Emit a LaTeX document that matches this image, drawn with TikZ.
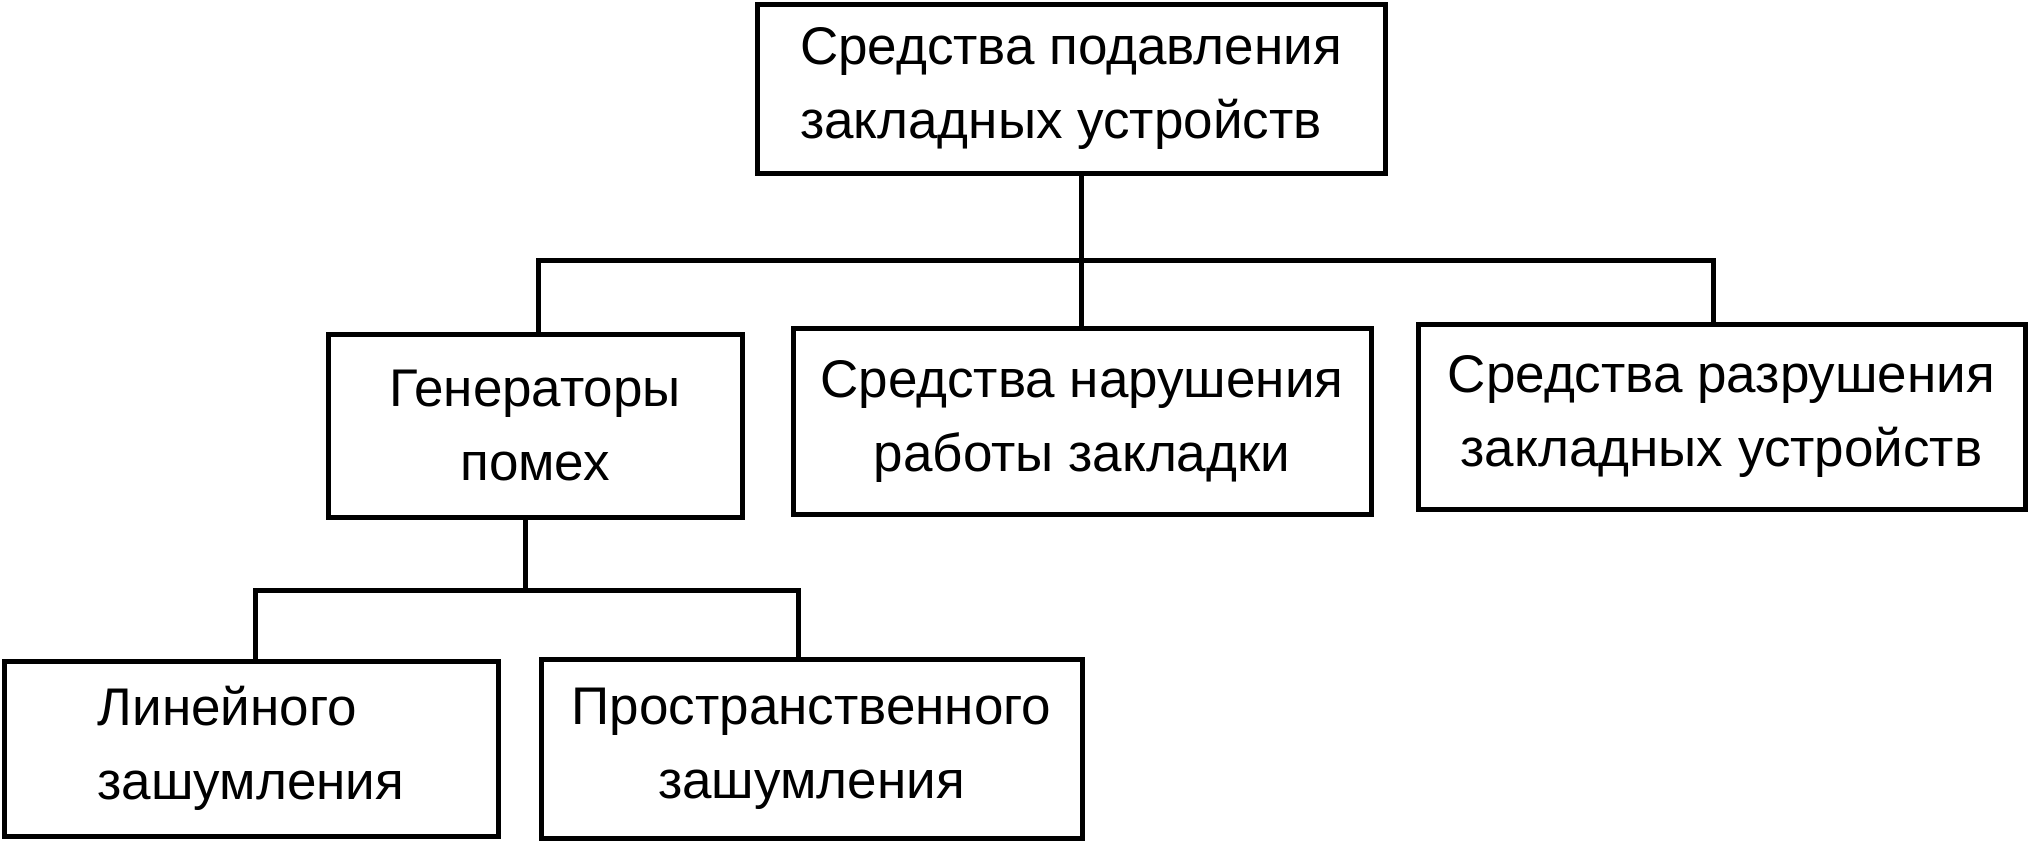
\documentclass[tikz,border=0pt]{standalone}
\usepackage{fontspec}
\setmainfont{Liberation Sans}
\begin{document}
\begin{tikzpicture}[x=0.5pt,y=-0.5pt,
  box/.style={draw, line width=2.5pt, rectangle, inner sep=0pt,
    font=\fontsize{26.5pt}{37pt}\selectfont},
  conn/.style={line width=2.5pt, line cap=rect}]
\useasboundingbox (0,0) rectangle (2032,848);
% boxes
\node[box, align=left, minimum width=314pt, minimum height=84.5pt] (top) at (1071,88.5)
  {Средства подавления\\закладных устройств};
\node[box, align=center, minimum width=207pt, minimum height=91.5pt] (gen) at (535,425.5)
  {Генераторы\\помех};
\node[box, align=center, minimum width=289pt, minimum height=93pt] (mid) at (1082,421)
  {Средства нарушения\\работы закладки};
\node[box, align=center, minimum width=303.5pt, minimum height=92.5pt] (right) at (1721.5,416.5)
  {Средства разрушения\\закладных устройств};
\node[box, align=left, minimum width=247pt, minimum height=87.5pt] (lin) at (251,748.5)
  {Линейного\\зашумления};
\node[box, align=center, minimum width=270.5pt, minimum height=89.5pt] (prost) at (811.5,748.5)
  {Пространственного\\зашумления};
% junctions
\coordinate (busL) at (538,260);
\coordinate (busM) at (1081,260);
\coordinate (busR) at (1713,260);
\coordinate (sub) at (525,590);
\coordinate (subL) at (255,590);
\coordinate (subR) at (798,590);
% connectors
\draw[conn] (top.south -| busM) -- (busM);
\draw[conn] (gen.north -| busL) |- (busR) -- (right.north -| busR);
\draw[conn] (busM) -- (mid.north -| busM);
\draw[conn] (gen.south -| sub) -- (sub);
\draw[conn] (lin.north -| subL) |- (subR) -- (prost.north -| subR);
\end{tikzpicture}
\end{document}
